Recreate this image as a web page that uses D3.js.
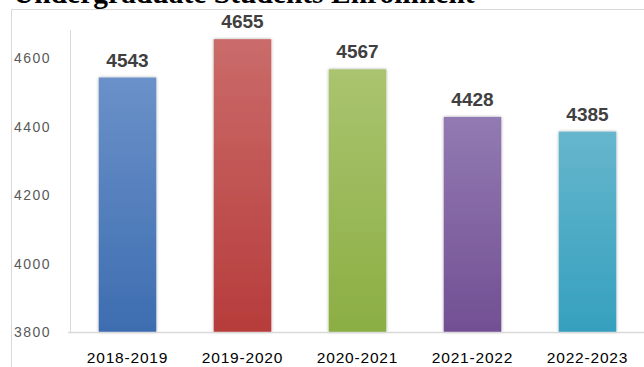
<!DOCTYPE html>
<html>
<head>
<meta charset="utf-8">
<script src="https://cdn.jsdelivr.net/npm/d3@7"></script>
<style>
  body { margin: 0; background: #fff; }
  svg { display: block; }
</style>
</head>
<body>
<svg id="chart" width="644" height="367"></svg>
<script>
var years = ["2018-2019", "2019-2020", "2020-2021", "2021-2022", "2022-2023"];
var students = [4543, 4655, 4567, 4428, 4385];
var yTicks = [3800, 4000, 4200, 4400, 4600];
var topColors = ["#6b91c9", "#ca6b6a", "#aac46f", "#927ab2", "#66b6cd"];
var bottomColors = ["#3d6db0", "#b73c3b", "#8bae43", "#724f93", "#35a0be"];

var svg = d3.select("#chart");

// frame of the chart area
svg.append("path")
  .attr("d", "M11.5,367 V9.5 H644")
  .attr("fill", "none")
  .attr("stroke", "#d9d9d9");

// title, cut off at top like the original
svg.append("text")
  .attr("x", 13)
  .attr("y", 3)
  .attr("font-family", "Liberation Serif, Times New Roman, serif")
  .attr("font-weight", "bold")
  .attr("font-size", 29.5)
  .attr("fill", "#000")
  .text("Undergraduate Students Enrollment");

var xScale = d3.scaleBand().domain(years).range([70, 645]).paddingInner(0.5).paddingOuter(0.25);
var yScale = d3.scaleLinear().domain([3800, 4600]).range([332, 58]);

var defs = svg.append("defs");
years.forEach(function(y, i) {
  var grad = defs.append("linearGradient")
    .attr("id", "g" + i)
    .attr("x1", 0).attr("y1", 0).attr("x2", 0).attr("y2", 1);
  grad.append("stop").attr("offset", "0%").attr("stop-color", topColors[i]);
  grad.append("stop").attr("offset", "100%").attr("stop-color", bottomColors[i]);
});
var shadow = defs.append("filter").attr("id", "shadow")
  .attr("x", "-20%").attr("y", "-10%").attr("width", "140%").attr("height", "120%");
shadow.append("feDropShadow")
  .attr("dx", 0).attr("dy", 0).attr("stdDeviation", 1.5)
  .attr("flood-color", "#000").attr("flood-opacity", 0.35);

// y axis line
svg.append("line")
  .attr("x1", 70.5).attr("x2", 70.5)
  .attr("y1", 30).attr("y2", 332)
  .attr("stroke", "#d9d9d9");

// y tick labels
svg.selectAll(".ytick")
  .data(yTicks)
  .enter().append("text")
  .attr("class", "ytick")
  .attr("x", 14)
  .attr("y", function(d) { return yScale(d) + 5; })
  .attr("font-family", "Liberation Sans, Arial, sans-serif")
  .attr("font-size", 14)
  .attr("letter-spacing", 1.5)
  .attr("fill", "#595959")
  .text(function(d) { return d; });

// bars
svg.selectAll(".bar")
  .data(students)
  .enter().append("rect")
  .attr("class", "bar")
  .attr("x", function(d, i) { return xScale(years[i]); })
  .attr("y", function(d) { return yScale(d); })
  .attr("width", xScale.bandwidth())
  .attr("height", function(d) { return yScale(3800) - yScale(d); })
  .attr("fill", function(d, i) { return "url(#g" + i + ")"; })
  .attr("filter", "url(#shadow)");

// baseline
svg.append("line")
  .attr("x1", 68).attr("x2", 644)
  .attr("y1", 332.5).attr("y2", 332.5)
  .attr("stroke", "#d9d9d9")
  .attr("stroke-width", 1.5);

// value labels
svg.selectAll(".val")
  .data(students)
  .enter().append("text")
  .attr("class", "val")
  .attr("x", function(d, i) { return xScale(years[i]) + xScale.bandwidth() / 2; })
  .attr("y", function(d) { return yScale(d) - 11; })
  .attr("text-anchor", "middle")
  .attr("font-family", "Liberation Sans, Arial, sans-serif")
  .attr("font-weight", "bold")
  .attr("font-size", 19)
  .attr("fill", "#404040")
  .text(function(d) { return d; });

// category labels
svg.selectAll(".cat")
  .data(years)
  .enter().append("text")
  .attr("class", "cat")
  .attr("x", function(d) { return xScale(d) + xScale.bandwidth() / 2; })
  .attr("y", 363)
  .attr("text-anchor", "middle")
  .attr("font-family", "Liberation Sans, Arial, sans-serif")
  .attr("font-size", 15.5)
  .attr("letter-spacing", 0.8)
  .attr("fill", "#000")
  .text(function(d) { return d; });
</script>
</body>
</html>
